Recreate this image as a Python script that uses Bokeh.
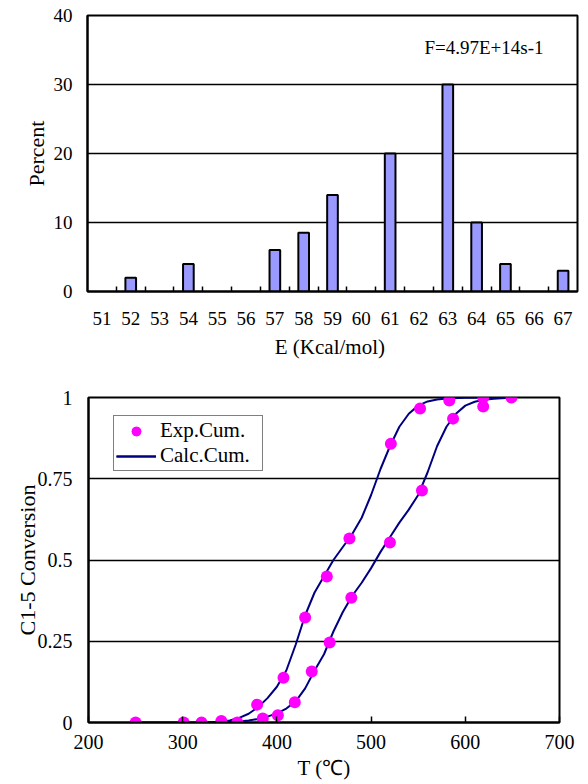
from bokeh.plotting import figure
from bokeh.models import (FixedTicker, Label, NumeralTickFormatter, Range1d,
                          ColumnDataSource, Legend)
from bokeh.embed import file_html
from bokeh.resources import INLINE

# ---------------- data ----------------
# Top chart: activation energy distribution
energy = [51, 52, 53, 54, 55, 56, 57, 58, 59, 60, 61, 62, 63, 64, 65, 66, 67]
percent = [0, 2, 0, 4, 0, 0, 6, 8.5, 14, 0, 20, 0, 30, 10, 4, 0, 3]
freq_factor_text = "F=4.97E+14s-1"

# Bottom chart: experimental cumulative conversion (two runs)
exp1_T = [250, 301, 320, 341, 379, 407, 430, 453, 477, 521, 552, 583, 619, 649]
exp1_C = [0.0, 0.0, 0.0, 0.005, 0.055, 0.138, 0.323, 0.449, 0.566, 0.858,
          0.966, 0.991, 1.0, 1.0]
exp2_T = [358, 385, 401, 419, 437, 456, 479, 520, 554, 587, 619]
exp2_C = [0.0, 0.012, 0.022, 0.062, 0.157, 0.246, 0.384, 0.554, 0.714, 0.935,
          0.972]

# Calculated cumulative conversion curves
calc1_T = [250, 300, 320, 340, 350, 360, 370, 380, 390, 400, 410, 420, 430,
           440, 450, 460, 470, 480, 490, 500, 510, 520, 530, 540, 550, 560,
           570, 580, 600, 650]
calc1_C = [0.0, 0.0, 0.0, 0.002, 0.006, 0.014, 0.027, 0.047, 0.075, 0.11,
           0.16, 0.24, 0.33, 0.40, 0.45, 0.50, 0.54, 0.58, 0.63, 0.70, 0.78,
           0.85, 0.91, 0.95, 0.975, 0.988, 0.994, 0.997, 0.999, 1.0]
calc2_T = [340, 360, 370, 380, 390, 400, 410, 420, 430, 440, 450, 460, 470,
           480, 490, 500, 510, 520, 530, 540, 550, 560, 570, 580, 590, 600,
           610, 620, 630, 650]
calc2_C = [0.0, 0.003, 0.006, 0.011, 0.018, 0.028, 0.043, 0.065, 0.105, 0.16,
           0.21, 0.28, 0.34, 0.39, 0.43, 0.475, 0.525, 0.57, 0.615, 0.655,
           0.70, 0.77, 0.85, 0.91, 0.95, 0.975, 0.987, 0.993, 0.996, 1.0]

y1_ticks = [0, 10, 20, 30, 40]
x2_ticks = [200, 300, 400, 500, 600, 700]
y2_ticks = [0, 0.25, 0.5, 0.75, 1.0]

FONT = "Liberation Serif"

# ---------------- top chart ----------------
p1 = figure(frame_width=490, frame_height=276, output_backend="svg",
            toolbar_location=None, min_border_left=87, min_border_right=3,
            min_border_top=15, min_border_bottom=72,
            x_range=Range1d(50.5, 67.5), y_range=Range1d(0, 40))
p1.background_fill_color = "white"
p1.border_fill_color = "white"
p1.outline_line_color = "black"
p1.outline_line_width = 2

bars = [(e, v) for e, v in zip(energy, percent) if v > 0]
src1 = ColumnDataSource(dict(x=[b[0] for b in bars], top=[b[1] for b in bars]))
p1.vbar(x="x", top="top", width=0.37, bottom=0, source=src1,
        fill_color="#9999FF", line_color="black", line_width=2)

p1.xgrid.visible = False
p1.ygrid.ticker = FixedTicker(ticks=y1_ticks)
p1.ygrid.grid_line_color = "black"
p1.ygrid.grid_line_width = 1.5

xa = p1.xaxis[0]
xa.ticker = FixedTicker(ticks=energy,
                        minor_ticks=[e + 0.5 for e in energy[:-1]])
xa.major_tick_line_color = None
xa.minor_tick_line_color = "black"
xa.minor_tick_line_width = 1.5
xa.minor_tick_in = 5
xa.minor_tick_out = 0
xa.axis_line_color = "black"
xa.axis_line_width = 2
xa.major_label_standoff = 14
xa.major_label_text_font = FONT
xa.major_label_text_font_size = "19px"
xa.major_label_text_color = "black"
xa.axis_label = "E  (Kcal/mol)"
xa.axis_label_text_font = FONT
xa.axis_label_text_font_size = "21px"
xa.axis_label_text_font_style = "normal"
xa.axis_label_text_color = "black"
xa.axis_label_standoff = 7

ya = p1.yaxis[0]
ya.ticker = FixedTicker(ticks=y1_ticks)
ya.major_tick_line_color = None
ya.minor_tick_line_color = None
ya.axis_line_color = "black"
ya.axis_line_width = 2
ya.major_label_standoff = 9
ya.major_label_text_font = FONT
ya.major_label_text_font_size = "19px"
ya.major_label_text_color = "black"
ya.axis_label = "Percent"
ya.axis_label_text_font = FONT
ya.axis_label_text_font_size = "22px"
ya.axis_label_text_font_style = "normal"
ya.axis_label_text_color = "black"
ya.axis_label_standoff = 2

p1.add_layout(Label(x=66.32, y=35.4, text=freq_factor_text,
                    text_align="right", text_baseline="middle",
                    text_font=FONT, text_font_size="19px",
                    text_color="black"))

# ---------------- bottom chart ----------------
p2 = figure(frame_width=471, frame_height=325, output_backend="svg",
            toolbar_location=None, min_border_left=88, min_border_right=21,
            min_border_top=34, min_border_bottom=56,
            x_range=Range1d(200, 700), y_range=Range1d(0, 1))
p2.background_fill_color = "white"
p2.border_fill_color = "white"
p2.outline_line_color = "black"
p2.outline_line_width = 2

l1 = p2.line(calc1_T, calc1_C, line_color="#000080", line_width=2)
l2 = p2.line(calc2_T, calc2_C, line_color="#000080", line_width=2)
s1 = p2.scatter(exp1_T, exp1_C, size=12, fill_color="#FF00FF",
                line_color=None)
s2 = p2.scatter(exp2_T, exp2_C, size=12, fill_color="#FF00FF",
                line_color=None)

legend = Legend(items=[("Exp.Cum.", [s1, s2]), ("Calc.Cum.", [l1, l2])],
                location=(25, 251))
legend.label_text_font = FONT
legend.label_text_font_size = "21px"
legend.label_text_color = "black"
legend.padding = 2
legend.spacing = 0
legend.margin = 0
legend.glyph_width = 40
legend.glyph_height = 24
legend.label_height = 24
legend.label_width = 100
legend.label_standoff = 4
legend.border_line_color = "black"
legend.border_line_width = 1.5
legend.background_fill_color = "white"
legend.background_fill_alpha = 1
p2.add_layout(legend, "center")

p2.xgrid.visible = False
p2.ygrid.ticker = FixedTicker(ticks=y2_ticks)
p2.ygrid.grid_line_color = "black"
p2.ygrid.grid_line_width = 1.5

xb = p2.xaxis[0]
xb.ticker = FixedTicker(ticks=x2_ticks)
xb.major_tick_in = 6
xb.major_tick_out = 0
xb.major_tick_line_color = "black"
xb.major_tick_line_width = 1.5
xb.minor_tick_line_color = None
xb.axis_line_color = "black"
xb.axis_line_width = 2
xb.major_label_standoff = 12
xb.major_label_text_font = FONT
xb.major_label_text_font_size = "20px"
xb.major_label_text_color = "black"
xb.axis_label = "T (\u2103)"
xb.axis_label_text_font = FONT
xb.axis_label_text_font_size = "21px"
xb.axis_label_text_font_style = "normal"
xb.axis_label_text_color = "black"
xb.axis_label_standoff = 4

yb = p2.yaxis[0]
yb.ticker = FixedTicker(ticks=y2_ticks)
yb.formatter = NumeralTickFormatter(format="0.[00]")
yb.major_tick_line_color = None
yb.minor_tick_line_color = None
yb.axis_line_color = "black"
yb.axis_line_width = 2
yb.major_label_standoff = 10
yb.major_label_text_font = FONT
yb.major_label_text_font_size = "20px"
yb.major_label_text_color = "black"
yb.axis_label = "C1-5 Conversion"
yb.axis_label_text_font = FONT
yb.axis_label_text_font_size = "22px"
yb.axis_label_text_font_style = "normal"
yb.axis_label_text_color = "black"
yb.axis_label_standoff = -5

open("out.html", "w").write(file_html([p1, p2], INLINE))
